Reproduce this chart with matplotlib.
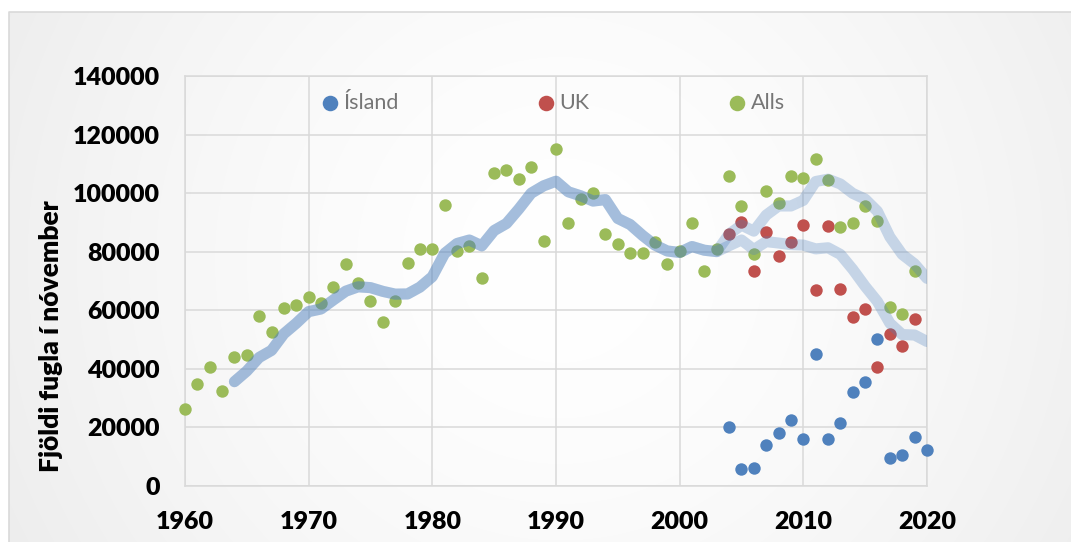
import matplotlib
matplotlib.use("Agg")
import matplotlib.pyplot as plt
import numpy as np

# talningar i november
years = list(range(1960, 2021))
alls = [26300, 34800, 40400, 32300, 43900, 44500, 58000, 52500, 60700, 61800,
        64400, 62500, 67900, 75700, 69300, 63000, 56100, 63200, 76000, 80900,
        80900, 95900, 80100, 81900, 71000, 107000, 108000, 104900, 108900, 83500,
        114900, 89900, 98100, 99900, 86000, 82700, 79500, 79500, 83400, 75900,
        80200, 89600, 73200, 81000, 105800, 95600, 79300, 100600, 96600, 105800,
        105200, 111500, 104600, 88400, 89700, 95500, 90500, 61000, 58500, 73400]
uk_years = list(range(2004, 2020))
uk = [86000, 90000, 73300, 86700, 78600, 83300, 89200, 66800, 88600, 67300,
      57700, 60300, 40600, 51700, 47900, 56900]
isl_years = list(range(2004, 2021))
island = [20000, 5600, 6000, 13900, 18100, 22500, 16100, 45000, 16100, 21400,
          32100, 35300, 50200, 9400, 10600, 16600, 12200]

c_isl = '#4F81BD'
c_uk = '#C0504D'
c_alls = '#9BBB59'


def moving_avg(vals, n=5):
    # like the excel trendline: average over what is there in the window
    v = np.array(vals + [np.nan] * (len(years) - len(vals)), dtype=float)
    out = []
    for i in range(n - 1, len(years)):
        out.append(np.nanmean(v[i - n + 1:i + 1]))
    return years[n - 1:], out


fig = plt.figure(figsize=(10.71, 5.42), dpi=100)

# background of the chart area
bg = fig.add_axes([0, 0, 1, 1], zorder=-5)
bg.axis('off')
xx, yy = np.meshgrid(np.arange(1071), np.arange(542))
r = np.sqrt((xx - 560) ** 2 + (yy - 260) ** 2) / 620
img = 1 - 0.07 * np.clip(r, 0, 1.2) ** 1.6
img[(xx < 9) | (yy < 12)] = 1
bg.imshow(np.dstack([img] * 3), extent=(0, 1071, 542, 0), aspect='auto')
bg.plot([9, 9, 1071], [542, 12, 12], color='#d9d9d9', lw=1.2)
bg.set_xlim(0, 1071)
bg.set_ylim(542, 0)

ax = fig.add_axes([0.1727, 0.1039, 0.6928, 0.7559])
ax.set_facecolor('none')

ax.scatter(isl_years, island, s=80, color=c_isl, zorder=3, clip_on=False,
           linewidths=0, label='Ísland')
ax.scatter(uk_years, uk, s=80, color=c_uk, zorder=3, clip_on=False,
           linewidths=0, label='UK')
ax.scatter(years[:len(alls)], alls, s=80, color=c_alls, zorder=3, clip_on=False,
           linewidths=0, label='Alls')

# UK series is the same as Alls before Iceland counts start
uk_full = alls[:uk_years[0] - 1960] + uk
for ser in [alls, uk_full]:
    tx, ty = moving_avg(ser)
    ax.plot(tx, ty, color=c_isl, alpha=0.3, lw=8, solid_capstyle='round',
            solid_joinstyle='round', zorder=4)

ax.set_xlim(1960, 2020)
ax.set_ylim(0, 140000)
ax.set_xticks(range(1960, 2021, 10))
ax.set_yticks(range(0, 140001, 20000))
ax.grid(True, color='#d9d9d9', lw=1.1)
ax.set_axisbelow(True)
for s in ax.spines.values():
    s.set_color('#d9d9d9')
    s.set_linewidth(1.1)
ax.tick_params(length=0, pad=18)
for lab in ax.get_xticklabels() + ax.get_yticklabels():
    lab.set_fontfamily('Lato')
    lab.set_fontweight('heavy')
    lab.set_fontsize(18)

ax.set_ylabel('Fjöldi fugla í nóvember', fontfamily='Lato', fontweight='heavy',
              fontsize=19)
ax.yaxis.set_label_coords(-0.164, 0.365)

leg = fig.legend(loc='center', bbox_to_anchor=(0.5175, 0.8105), ncol=3,
                 frameon=False, prop={'family': 'Lato', 'size': 15.5},
                 handlelength=0.6, handletextpad=0.32, columnspacing=6.55,
                 borderpad=0, scatterpoints=1, markerscale=1.25)
for t in leg.get_texts():
    t.set_color('#767676')

fig.savefig('out.png', dpi=100)
